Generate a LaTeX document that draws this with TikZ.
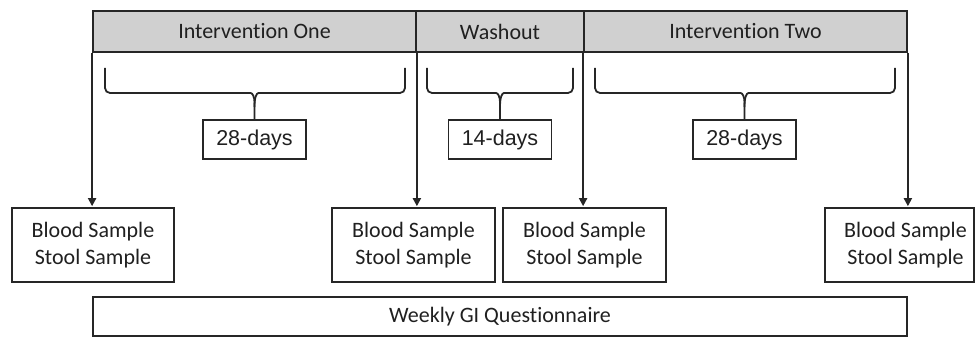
\documentclass[tikz,border=0pt]{standalone}
\usepackage{fontspec}
\setmainfont[Ligatures=NoCommon]{Carlito}
\newfontfamily\arialf{Liberation Sans}
\usetikzlibrary{arrows.meta,calc}
\definecolor{lin}{HTML}{262626}
\definecolor{hdr}{HTML}{D0D0D0}
\definecolor{txt}{HTML}{202020}
\begin{document}
\begin{tikzpicture}[x=1pt,y=1pt,
  every node/.style={inner sep=0pt, text=txt, font=\fontsize{22}{27}\selectfont},
  hdrbox/.style={draw=lin, line width=1.8pt, fill=hdr, minimum height=41pt},
  daybox/.style={draw=lin, line width=1.8pt, fill=white, minimum height=39pt, minimum width=103pt, font=\arialf\fontsize{21.5}{26}\selectfont},
  smpbox/.style={draw=lin, line width=1.8pt, fill=white, minimum height=74pt, align=center},
  brc/.style={draw=lin, line width=1.8pt, rounded corners=5pt},
  arr/.style={draw=lin, line width=1.8pt, shorten >=0.9pt, -{Triangle[length=8pt,width=8pt]}}]
\useasboundingbox (0,0) rectangle (975,337);
% headers
\node[hdrbox, minimum width=323pt] (h1) at (254.5,305.5) {Intervention One};
\node[hdrbox, minimum width=168pt] (h2) at (500,305.5) {Washout};
\node[hdrbox, minimum width=323pt] (h3) at (745.5,305.5) {Intervention Two};
% day boxes
\node[daybox] (d1) at (254.5,197.5) {28-days};
\node[daybox] (d2) at (500,197.5) {14-days};
\node[daybox] (d3) at (744.5,197.5) {28-days};
% sample boxes
\node[smpbox, minimum width=162pt] (s1) at (93,92) {Blood Sample\\Stool Sample};
\node[smpbox, minimum width=163pt] (s2) at (413.5,92) {Blood Sample\\Stool Sample};
\node[smpbox, minimum width=163pt] (s3) at (584.5,92) {Blood Sample\\Stool Sample};
\node[smpbox, minimum width=149pt] (s4) at (899.5,92) {\hspace*{12pt}Blood Sample\\\hspace*{12pt}Stool Sample};
% weekly
\node[smpbox, minimum width=814pt, minimum height=39pt] (w) at (500,20.5) {Weekly GI Questionnaire};
% arrows
\draw[arr] (h1.south west) -- (h1.south west |- s1.north);
\draw[arr] (h1.south east) -- (h1.south east |- s2.north);
\draw[arr] (h3.south west) -- (h3.south west |- s3.north);
\draw[arr] (h3.south east) -- (h3.south east |- s4.north);
% braces
\foreach \l/\r/\c/\d in {105/405/254.5/d1, 427/573/500/d2, 595/895/744.5/d3}{
  \draw[brc] (\l,269) -- (\l,244) -- ({\c-9},244) .. controls ({\c-2},244) and (\c,240) .. (\c,230) -- (\d.north);
  \draw[brc] (\r,269) -- (\r,244) -- ({\c+9},244) .. controls ({\c+2},244) and (\c,240) .. (\c,230);
}
\end{tikzpicture}
\end{document}
